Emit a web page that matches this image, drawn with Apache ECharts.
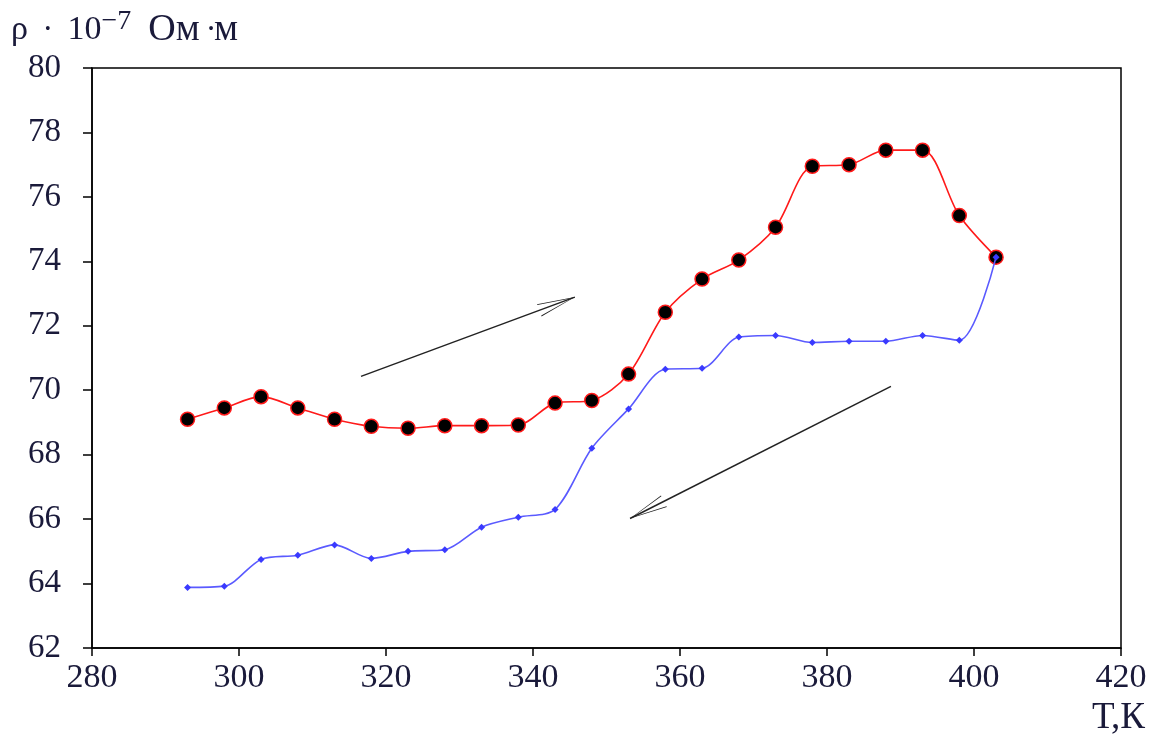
<!DOCTYPE html>
<html><head><meta charset="utf-8">
<script src="https://cdn.jsdelivr.net/npm/echarts@6/dist/echarts.min.js"></script>
<style>html,body{margin:0;padding:0;background:#fff}#c{width:1164px;height:740px}</style>
</head><body><div id="c"></div>
<script>
const temps = [293,298,303,308,313,318,323,328,333,338,343,348,353,358,363,368,373,378,383,388,393,398,403];
const heating = [69.1,69.45,69.8,69.45,69.1,68.88,68.82,68.9,68.9,68.92,69.6,69.68,70.5,72.42,73.45,74.04,75.06,76.95,77.0,77.45,77.45,75.42,74.13];
const cooling = [63.88,63.92,64.75,64.88,65.2,64.78,65.0,65.05,65.75,66.06,66.3,68.2,69.42,70.65,70.68,71.65,71.7,71.48,71.52,71.52,71.7,71.55,74.13];
const xTicks = [280,300,320,340,360,380,400,420];
const yTicks = [62,64,66,68,70,72,74,76,78,80];
const arrowUp = [[316.6,70.43],[345.7,72.89]];
const arrowDown = [[388.7,70.12],[353.2,66.02]];

const font = '"Liberation Serif", "Times New Roman", serif';
const txt = '#1a1a3a';
// chevron with tip at the centre of the path's bounding box
const chevron = 'path://M0,-40 L0.02,-40 L0,-39.98 Z M0,0 L10,40 L8.6,40 L0,3.2 L-8.6,40 L-10,40 Z';

const chart = echarts.init(document.getElementById('c'));
chart.setOption({
  animation:false,
  grid:{left:92,right:43,top:68,bottom:92,show:true,borderColor:'#000',borderWidth:1.5},
  xAxis:{type:'value',min:xTicks[0],max:xTicks[xTicks.length-1],interval:20,
    axisLine:{onZero:false,lineStyle:{color:'#000',width:1.5}},
    axisTick:{show:true,length:8,lineStyle:{color:'#000',width:1.5}},
    splitLine:{show:false},
    axisLabel:{fontFamily:font,fontSize:34,color:txt,margin:13}},
  yAxis:{type:'value',min:yTicks[0],max:yTicks[yTicks.length-1],interval:2,
    axisLine:{show:true,onZero:false,lineStyle:{color:'#000',width:1.5}},
    axisTick:{show:true,length:9,lineStyle:{color:'#000',width:1.5}},
    splitLine:{show:false},
    axisLabel:{fontFamily:font,fontSize:33,color:txt,margin:31}},
  graphic:[
    {type:'text',left:11,top:8,style:{
      text:'ρ  {s|•}  10{sup|−7}  {b|Ом} {s|•}{b|м}',fontFamily:font,fontSize:34,fill:txt,
      rich:{sup:{fontFamily:font,fontSize:28,fill:txt,verticalAlign:'top',padding:[0,0,16,0]},
            s:{fontFamily:font,fontSize:16,fill:txt},
            b:{fontFamily:font,fontSize:38,fill:txt}}}},
    {type:'text',left:1092,top:700,style:{text:'Т,К',fontFamily:font,fontSize:37,fill:txt}}
  ],
  series:[
    {type:'line',data:temps.map((t,i)=>[t,heating[i]]),smooth:0.3,
      lineStyle:{color:'#ff1a1a',width:1.6},
      symbol:'circle',symbolSize:14,
      itemStyle:{color:'#000',borderColor:'#ff1a1a',borderWidth:1.5},z:3},
    {type:'line',data:temps.map((t,i)=>[t,cooling[i]]),smooth:0.3,
      lineStyle:{color:'#5a5aff',width:1.6},
      symbol:'diamond',symbolSize:7,
      itemStyle:{color:'#3a3aff'},z:4,
      markLine:{silent:true,symbol:['none',chevron],symbolSize:[13,76],
        lineStyle:{color:'#222',width:1.5,type:'solid'},label:{show:false},
        data:[
          [{coord:arrowUp[0]},{coord:arrowUp[1]}],
          [{coord:arrowDown[0]},{coord:arrowDown[1]}]
        ]}}
  ]
});
</script></body></html>
